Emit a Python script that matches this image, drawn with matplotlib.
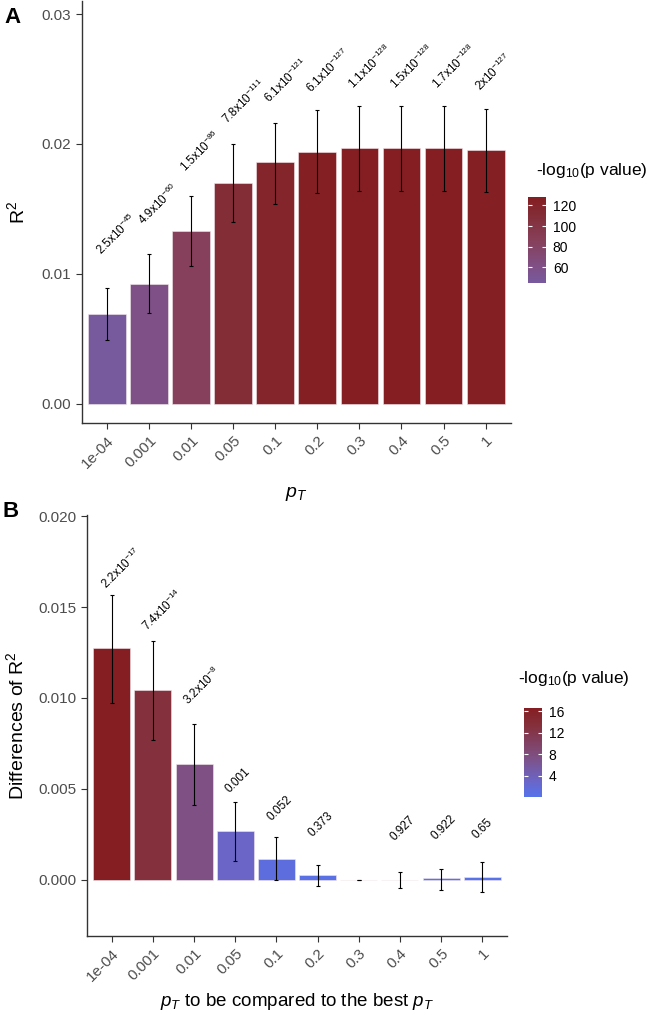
import numpy as np
import matplotlib
matplotlib.use('Agg')
import matplotlib.pyplot as plt
from matplotlib.colors import LinearSegmentedColormap, Normalize
import matplotlib.cm as cm

plt.rcParams['font.family'] = ['Liberation Sans', 'DejaVu Sans']
plt.rcParams['mathtext.fontset'] = 'custom'
plt.rcParams['mathtext.rm'] = 'Liberation Sans'
plt.rcParams['mathtext.it'] = 'Liberation Sans:italic'
plt.rcParams['mathtext.bf'] = 'Liberation Sans:bold'

thresholds = ['1e-04', '0.001', '0.01', '0.05', '0.1', '0.2', '0.3', '0.4', '0.5', '1']

# panel A: R2 per threshold
r2 = [0.0069, 0.0092, 0.0133, 0.0170, 0.0186, 0.0194, 0.0197, 0.0197, 0.0197, 0.0195]
r2_lo = [0.0049, 0.0070, 0.0106, 0.0140, 0.0154, 0.0162, 0.0164, 0.0164, 0.0164, 0.0163]
r2_hi = [0.0089, 0.0115, 0.0160, 0.0200, 0.0216, 0.0226, 0.0229, 0.0229, 0.0229, 0.0227]
r2_p = ['2.5e-45', '4.9e-60', '1.5e-86', '7.8e-111', '6.1e-121', '6.1e-127',
        '1.1e-128', '1.5e-128', '1.7e-128', '2e-127']

# panel B: differences of R2 to the best threshold
diff = [0.01275, 0.01044, 0.00636, 0.00266, 0.00114, 0.00026, 0.0, -0.00002, 0.00008, 0.00015]
diff_lo = [0.00974, 0.00769, 0.0041, 0.00104, 0.0, -0.00033, 0.0, -0.00046, -0.00059, -0.00068]
diff_hi = [0.01566, 0.01313, 0.00857, 0.00427, 0.00233, 0.00082, 0.0, 0.0004, 0.0006, 0.00097]
diff_p = ['2.2e-17', '7.4e-14', '3.2e-8', '0.001', '0.052', '0.373', '', '0.927', '0.922', '0.65']

cmapA = LinearSegmentedColormap.from_list('A', [(0, '#775A9E'), (0.18, '#7F5087'), (0.5, '#86405A'),
                                                (0.79, '#832D37'), (1, '#841E22')])
cmapB = LinearSegmentedColormap.from_list('B', [(0, '#5773E9'), (0.08, '#5E6DDC'), (0.18, '#6B65C6'),
                                                (0.45, '#7E5083'), (0.79, '#84313D'), (1, '#841E22')])


def fmt(p):
    if 'e' in p:
        m, e = p.split('e')
        return rf'{m}x10$^{{{int(e)}}}$'
    return p


def nlog(ps):
    return np.array([-np.log10(float(p)) if p else np.nan for p in ps])


def style_axes(ax):
    for s in ['top', 'right']:
        ax.spines[s].set_visible(False)
    for s in ['left', 'bottom']:
        ax.spines[s].set_color('#333333')
        ax.spines[s].set_linewidth(1.0)
    ax.tick_params(colors='#333333', labelcolor='#4D4D4D', labelsize=11, length=4, width=0.8)
    ax.set_xlim(-0.6, 9.6)
    x = np.arange(len(thresholds))
    ax.set_xticks(x)
    ax.set_xticklabels(thresholds, rotation=45, ha='right', va='top', rotation_mode='anchor')


def panel(ax, cax, vals, lo, hi, ps, cmap, cticks, yticks, ylim, txt_off):
    x = np.arange(len(thresholds))
    vals = np.array(vals)
    nl = nlog(ps)
    norm = Normalize(np.nanmin(nl), np.nanmax(nl))
    cols = [cmap(norm(v)) if not np.isnan(v) else (0, 0, 0, 0) for v in nl]
    ax.bar(x, vals, width=0.9, color=cols, edgecolor='#F3E6EA', linewidth=0.4, zorder=2)
    ax.errorbar(x, vals, yerr=[vals - np.array(lo), np.array(hi) - vals], fmt='none',
                ecolor='black', elinewidth=0.8, capsize=1.5, capthick=0.8, zorder=3)
    for i, p in enumerate(ps):
        if not p:
            continue
        off = txt_off[0] if 'e' in p else txt_off[1]
        ax.text(i - 0.13, max(vals[i], 0) + off, fmt(p), rotation=45, ha='left', va='baseline',
                rotation_mode='anchor', fontsize=8.5, color='black')
    style_axes(ax)
    ax.set_ylim(*ylim)
    ax.set_yticks(yticks)
    sm = cm.ScalarMappable(norm=norm, cmap=cmap)
    cb = fig.colorbar(sm, cax=cax)
    cb.outline.set_visible(False)
    cb.set_ticks(cticks)
    cax.tick_params(direction='in', color='white', length=3, width=0.8, left=True, right=True,
                    labelsize=10, labelcolor='black', pad=5)


fig = plt.figure(figsize=(6.6, 10.15), dpi=100)
axA = fig.add_axes([0.124, 0.583, 0.650, 0.416])
axB = fig.add_axes([0.132, 0.078, 0.636, 0.415])
caxA = fig.add_axes([0.800, 0.721, 0.027, 0.0847])
caxB = fig.add_axes([0.794, 0.2148, 0.027, 0.0877])

panel(axA, caxA, r2, r2_lo, r2_hi, r2_p, cmapA, [60, 80, 100, 120],
      [0, 0.01, 0.02, 0.03], (-0.0015, 0.031), (0.0045, 0.0045))
axA.set_yticklabels(['0.00', '0.01', '0.02', '0.03'])
axA.set_ylabel('R$^2$', fontsize=14, labelpad=10)
axA.set_xlabel('$p_T$', fontsize=14, labelpad=10)

panel(axB, caxB, diff, diff_lo, diff_hi, diff_p, cmapB, [4, 8, 12, 16],
      [0, 0.005, 0.01, 0.015, 0.02], (-0.0031, 0.0201), (0.0032, 0.0021))
axB.set_yticklabels(['0.000', '0.005', '0.010', '0.015', '0.020'])
axB.set_ylabel('Differences of R$^2$', fontsize=14, labelpad=8)
axB.set_xlabel('$p_T$ to be compared to the best $p_T$', fontsize=13.5, labelpad=5)

fig.text(0.812, 0.832, '-log$_{10}$(p value)', fontsize=12.5, va='center')
fig.text(0.785, 0.332, '-log$_{10}$(p value)', fontsize=12.5, va='center')
fig.text(0.006, 0.993, 'A', fontsize=16, fontweight='bold', va='top')
fig.text(0.004, 0.506, 'B', fontsize=16, fontweight='bold', va='top')

fig.savefig('out.png', dpi=100)
